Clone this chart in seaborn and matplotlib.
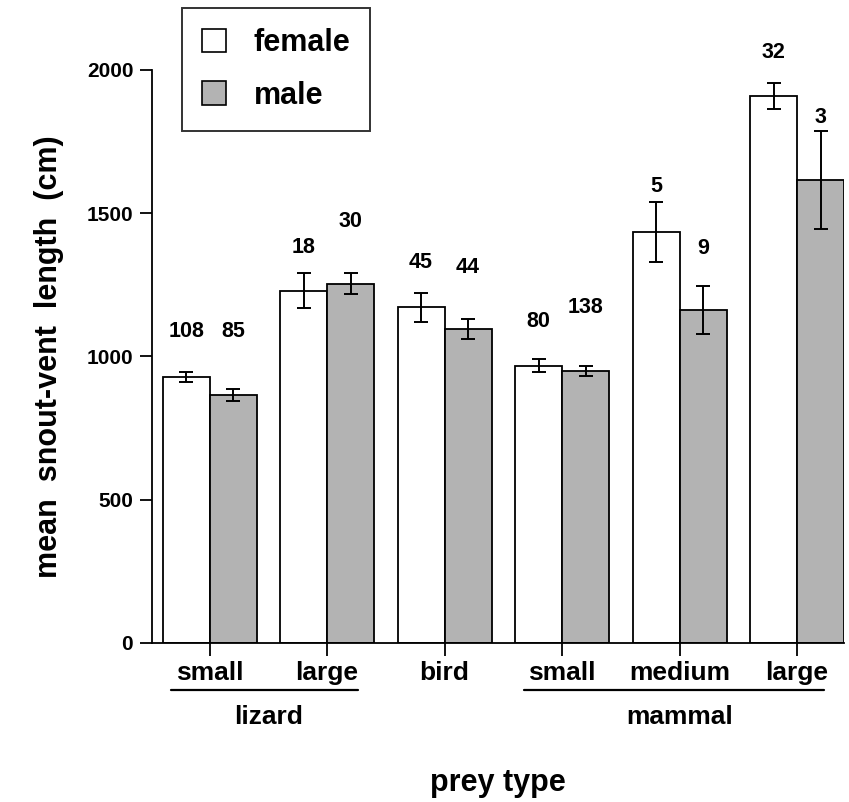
import numpy as np
import pandas as pd
import matplotlib
matplotlib.use("Agg")
import matplotlib.pyplot as plt
import matplotlib.transforms as mtransforms
from matplotlib.patches import Patch
import seaborn as sns

# ---- data ----
prey_keys = ["lizard small", "lizard large", "bird", "mammal small", "mammal medium", "mammal large"]
prey_labels = ["small", "large", "bird", "small", "medium", "large"]
female_mean = [928, 1230, 1172, 968, 1434, 1909]
female_se = [18, 60, 50, 23, 105, 45]
male_mean = [867, 1254, 1096, 950, 1162, 1616]
male_se = [21, 37, 35, 17, 84, 171]
female_n = [108, 18, 45, 80, 5, 32]
male_n = [85, 30, 44, 138, 9, 3]
y_ticks = [0, 500, 1000, 1500, 2000]

# layout: gap (points) from error-bar top to the sample size label
female_gap = [29, 19, 22, 27, 11, 22]
male_gap = [41, 37, 37, 42, 27, 10]

df = pd.DataFrame({
    "prey": prey_keys * 2,
    "sex": ["female"] * 6 + ["male"] * 6,
    "svl": female_mean + male_mean,
})

sns.set_style("ticks")
plt.rcParams["font.family"] = ["Liberation Sans", "DejaVu Sans"]
plt.rcParams["font.weight"] = "bold"
for key in ["text.color", "axes.labelcolor", "xtick.color", "ytick.color", "axes.edgecolor"]:
    plt.rcParams[key] = "black"

fig = plt.figure(figsize=(8.49, 8.02), dpi=100)
ax = fig.add_axes([152 / 849, 159 / 802, 692 / 849, 573 / 802])

gray = "#b3b3b3"
sns.barplot(data=df, x="prey", y="svl", hue="sex", order=prey_keys,
            hue_order=["female", "male"], palette={"female": "white", "male": gray},
            edgecolor="black", linewidth=1.3, width=0.8, errorbar=None,
            legend=False, ax=ax)

series = [(female_mean, female_se, female_n, female_gap),
          (male_mean, male_se, male_n, male_gap)]
for cont, (mean, se, n, gap) in zip(ax.containers, series):
    xs = [b.get_x() + b.get_width() / 2 for b in cont]
    ax.errorbar(xs, mean, yerr=se, fmt="none", ecolor="black",
                elinewidth=1.4, capsize=5, capthick=1.4, zorder=5)
    for x, m, s, k, g in zip(xs, mean, se, n, gap):
        ax.annotate(str(k), (x, m + s), xytext=(0, g), textcoords="offset points",
                    ha="center", va="center", fontsize=15.5, fontweight="bold",
                    annotation_clip=False)

ax.set_xlim(-0.49, 5.4)
ax.set_ylim(0, 2000)
ax.set_yticks(y_ticks)
ax.set_yticklabels([str(t) for t in y_ticks], fontsize=15, fontweight="bold")
ax.set_xticks(range(len(prey_keys)))
ax.set_xticklabels(prey_labels, fontsize=19, fontweight="bold")
ax.tick_params(axis="y", length=8.5, width=1.3, pad=5)
ax.tick_params(axis="x", length=9, width=1.3, pad=4)
sns.despine(ax=ax)
ax.spines["left"].set_linewidth(1.3)
ax.spines["bottom"].set_linewidth(1.3)
ax.spines["left"].set_bounds(0, 2000)

ax.set_xlabel("prey type", fontsize=22, fontweight="bold", labelpad=60)
ax.set_ylabel("mean  snout-vent  length  (cm)", fontsize=22, fontweight="bold", labelpad=16)

# grouping lines and group names under the tick labels
trans = mtransforms.blended_transform_factory(ax.transData, ax.transAxes)
groups = [("lizard", -0.33, 1.26, 0.5), ("mammal", 2.68, 5.23, 4.0)]
for name, x0, x1, xc in groups:
    ax.plot([x0, x1], [-0.082, -0.082], color="black", lw=1.6,
            transform=trans, clip_on=False)
    ax.text(xc, -0.13, name, transform=trans, ha="center", va="center",
            fontsize=19, fontweight="bold")

handles = [Patch(facecolor="white", edgecolor="black", linewidth=1.2, label="female"),
           Patch(facecolor=gray, edgecolor="black", linewidth=1.2, label="male")]
leg = fig.legend(handles=handles, loc="upper left", bbox_to_anchor=(182 / 849, 1 - 8 / 802),
                 borderaxespad=0, prop={"size": 22, "weight": "bold"}, frameon=True,
                 fancybox=False, handlelength=0.8, handleheight=0.8, handletextpad=0.9,
                 labelspacing=0.75, borderpad=0.65)
leg.get_frame().set_edgecolor("black")
leg.get_frame().set_linewidth(1.4)

fig.savefig("out.png", dpi=100)
